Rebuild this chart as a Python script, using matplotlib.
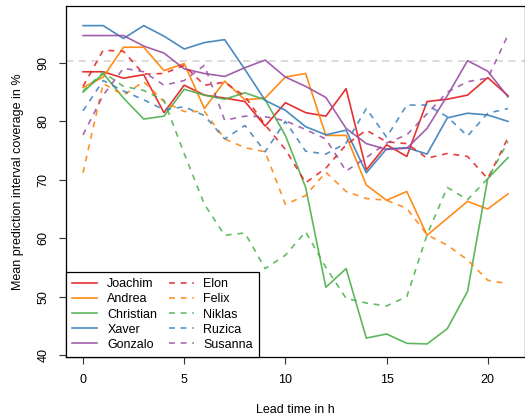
import numpy as np
import matplotlib
matplotlib.use('Agg')
import matplotlib.pyplot as plt

plt.rcParams['font.family'] = ['Liberation Sans', 'DejaVu Sans']

hours = list(range(22))

joachim = [88.5, 88.5, 87.4, 88.0, 81.5, 86.2, 84.5, 84.0, 83.4, 79.2, 83.2, 81.5,
           80.9, 85.6, 71.7, 76.0, 74.0, 83.4, 83.8, 84.5, 87.5, 84.4]
andrea = [85.8, 87.6, 92.7, 92.7, 88.7, 89.9, 82.2, 86.9, 83.7, 84.0, 87.6, 88.2,
          77.6, 77.6, 69.1, 66.5, 68.0, 60.5, 63.4, 66.3, 65.0, 67.6]
christian = [85.0, 88.2, 84.0, 80.4, 80.9, 85.5, 84.5, 83.8, 84.9, 83.7, 77.6, 68.7,
             51.6, 54.8, 42.9, 43.6, 42.0, 41.9, 44.5, 50.9, 70.2, 73.8]
xaver = [96.4, 96.4, 94.2, 96.4, 94.6, 92.4, 93.5, 94.0, 88.9, 83.6, 81.9, 79.1,
         77.7, 78.5, 71.2, 75.3, 75.5, 74.4, 80.6, 81.4, 81.1, 80.0]
gonzalo = [94.7, 94.7, 94.7, 92.9, 91.7, 89.0, 88.2, 87.7, 89.2, 90.5, 87.6, 86.0,
           84.1, 78.8, 76.2, 75.2, 75.4, 78.8, 84.4, 90.4, 88.6, 84.2]
elon = [86.0, 92.2, 92.0, 88.1, 88.2, 89.6, 86.2, 86.7, 84.3, 79.4, 75.2, 69.5,
        72.0, 76.0, 78.5, 76.5, 76.2, 73.7, 74.5, 74.0, 70.2, 77.2]
felix = [71.2, 86.5, 84.5, 86.8, 83.4, 81.7, 81.7, 77.0, 75.5, 74.8, 65.8, 67.3,
         71.3, 68.0, 66.8, 66.5, 65.1, 60.6, 58.8, 56.3, 52.8, 52.2]
niklas = [85.2, 88.4, 86.0, 85.3, 83.6, 74.5, 65.8, 60.5, 60.9, 54.8, 57.1, 61.1,
          55.0, 49.7, 48.9, 48.4, 50.0, 60.6, 68.7, 66.6, 70.2, 76.5]
ruzica = [81.8, 87.0, 85.2, 83.7, 82.0, 82.5, 81.0, 77.0, 79.3, 74.8, 80.0, 74.9,
          74.4, 76.3, 82.2, 77.3, 82.8, 82.8, 80.8, 77.5, 81.4, 82.2]
susanna = [77.7, 84.5, 89.1, 88.5, 86.2, 87.0, 89.6, 80.2, 80.9, 80.8, 80.1, 78.6,
           77.0, 71.5, 73.8, 76.3, 77.7, 81.3, 85.0, 86.8, 87.4, 94.8]

solid_names = ['Joachim', 'Andrea', 'Christian', 'Xaver', 'Gonzalo']
dashed_names = ['Elon', 'Felix', 'Niklas', 'Ruzica', 'Susanna']
solid_series = [joachim, andrea, christian, xaver, gonzalo]
dashed_series = [elon, felix, niklas, ruzica, susanna]
colors = ['#E41A1C', '#FF7F00', '#4DAF4A', '#377EB8', '#984EA3']
nominal = 90.3

fig = plt.figure(figsize=(5.25, 4.15), dpi=100)
ax = fig.add_axes([66 / 525, 1 - 357 / 415, 459 / 525, 351 / 415])

ax.axhline(nominal, color='#D9D9D9', lw=1.3, dashes=(4, 3))

for name, s, c in zip(solid_names, solid_series, colors):
    ax.plot(hours, s, color=c, lw=1.2, alpha=0.9, label=name)
for name, s, c in zip(dashed_names, dashed_series, colors):
    ax.plot(hours, s, color=c, lw=1.2, alpha=0.85, dashes=(3.5, 3.5), label=name)

ax.set_xlim(-0.84, 21.84)
ax.set_ylim(39.66, 99.76)
ax.set_xticks([0, 5, 10, 15, 20])
ax.set_yticks([40, 50, 60, 70, 80, 90])
ax.tick_params(length=5, width=0.8, labelsize=9, pad=7, color='#333333')
plt.setp(ax.get_yticklabels(), rotation=90, va='center')
for sp in ax.spines.values():
    sp.set_linewidth(0.9)

ax.set_xlabel('Lead time in h', fontsize=9, va='center')
ax.set_ylabel('Mean prediction interval coverage in %', fontsize=9, va='center')
ax.xaxis.set_label_coords(0.5, -0.151)
ax.yaxis.set_label_coords(-0.105, 0.5)

leg = ax.legend(loc='lower left', ncol=2, fontsize=9, borderaxespad=0,
                frameon=True, fancybox=False, framealpha=1, edgecolor='black',
                handlelength=2.0, handletextpad=0.8, columnspacing=0.9,
                labelspacing=0.25, borderpad=0.5)
leg.get_frame().set_linewidth(0.9)

fig.savefig('out.png', dpi=100)
